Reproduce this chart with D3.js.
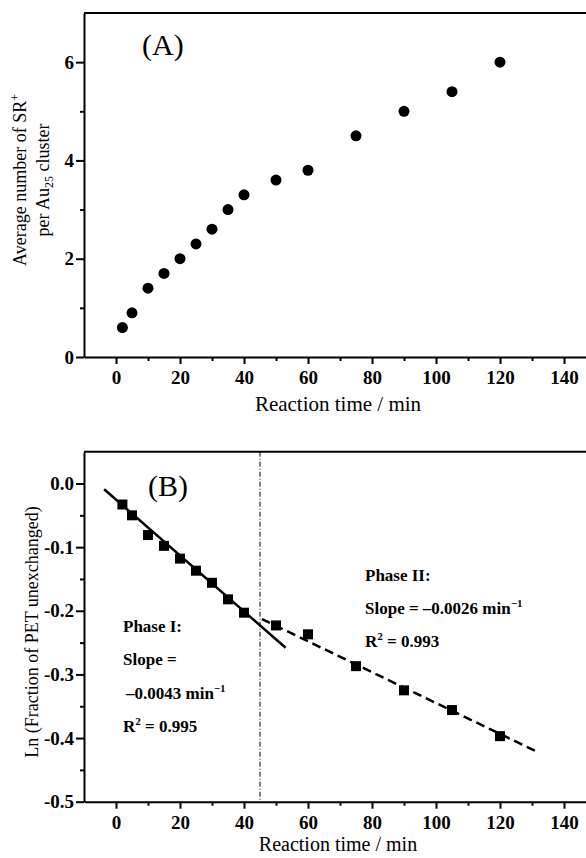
<!DOCTYPE html>
<html>
<head>
<meta charset="utf-8">
<script src="https://cdn.jsdelivr.net/npm/d3@7"></script>
<style>
    body { margin: 0; background: #fff; }
    svg { display: block; }
    text { font-family: "Liberation Serif", "Times New Roman", serif; fill: #000; }
</style>
</head>
<body>
<svg id="chart" width="586" height="858"></svg>
<script>
// Panel A: average number of SR+ per Au25 cluster
var timeA = [2, 5, 10, 15, 20, 25, 30, 35, 40, 50, 60, 75, 90, 105, 120];
var srPerCluster = [0.6, 0.9, 1.4, 1.7, 2.0, 2.3, 2.6, 3.0, 3.3, 3.6, 3.8, 4.5, 5.0, 5.4, 6.0];

// Panel B: ln(fraction of PET unexchanged)
var timeB = [2, 5, 10, 15, 20, 25, 30, 35, 40, 50, 60, 75, 90, 105, 120];
var lnFraction = [-0.033, -0.050, -0.081, -0.098, -0.118, -0.137, -0.156, -0.182, -0.203,
                  -0.223, -0.237, -0.287, -0.325, -0.356, -0.397];

// linear fits (endpoints)
var phase1Fit = [[-3.7, -0.009], [53, -0.258]];
var phase2Fit = [[45.6, -0.213], [132, -0.4225]];
var phaseBoundary = 45;

// ticks
var xTicks = [0, 20, 40, 60, 80, 100, 120, 140];
var xMinorTicks = [10, 30, 50, 70, 90, 110, 130];
var yTicksA = [0, 2, 4, 6];
var yMinorTicksA = [1, 3, 5];
var yTicksB = [0, -0.1, -0.2, -0.3, -0.4, -0.5];
var yMinorTicksB = [-0.05, -0.15, -0.25, -0.35, -0.45];

var svg = d3.select('#chart');
var left = 84, right = 596;

var x = d3.scaleLinear().domain([-10, 150]).range([left, right]);

function drawFrame(g, y, top, bottom, ticks, minor, fmt) {
    // top border (right border falls outside the picture)
    g.append('line')
        .attr('x1', left).attr('x2', right)
        .attr('y1', top).attr('y2', top)
        .attr('stroke', '#000').attr('stroke-width', 2);

    g.append('g')
        .attr('transform', 'translate(0,' + bottom + ')')
        .call(d3.axisBottom(x).tickValues(xTicks).tickSize(7).tickSizeOuter(0).tickPadding(7));
    g.append('g')
        .attr('transform', 'translate(0,' + bottom + ')')
        .call(d3.axisBottom(x).tickValues(xMinorTicks).tickSize(4).tickSizeOuter(0).tickFormat(''))
        .select('.domain').remove();

    g.append('g')
        .attr('transform', 'translate(' + left + ',0)')
        .call(d3.axisLeft(y).tickValues(ticks).tickSize(8).tickSizeOuter(0).tickPadding(2).tickFormat(fmt));
    g.append('g')
        .attr('transform', 'translate(' + left + ',0)')
        .call(d3.axisLeft(y).tickValues(minor).tickSize(4).tickSizeOuter(0).tickFormat(''))
        .select('.domain').remove();

    g.selectAll('.domain').attr('stroke-width', 2);
    g.selectAll('.tick line').attr('stroke-width', 2);
    g.selectAll('.tick text')
        .attr('font-family', '"Liberation Serif", "Times New Roman", serif')
        .attr('font-size', 19)
        .attr('font-weight', 'bold');
}

// ---------- Panel A ----------
var gA = svg.append('g');
var yA = d3.scaleLinear().domain([0, 7]).range([357, 13]);
drawFrame(gA, yA, 13, 357, yTicksA, yMinorTicksA, d3.format('d'));

gA.selectAll('circle.pt')
    .data(timeA)
    .enter()
    .append('circle')
    .attr('class', 'pt')
    .attr('cx', function (d) { return x(d); })
    .attr('cy', function (d, i) { return yA(srPerCluster[i]); })
    .attr('r', 5.5)
    .attr('fill', '#000');

gA.append('text')
    .attr('x', 142).attr('y', 55)
    .attr('font-size', 30)
    .text('(A)');

gA.append('text')
    .attr('x', 338).attr('y', 411)
    .attr('text-anchor', 'middle')
    .attr('font-size', 21)
    .text('Reaction time / min');

var labA = gA.append('text')
    .attr('transform', 'translate(26,180) rotate(-90)')
    .attr('text-anchor', 'middle')
    .attr('font-size', 18);
labA.append('tspan').text('Average number of SR');
labA.append('tspan').attr('font-size', 12).attr('dy', -7).text('+');
var labA2 = gA.append('text')
    .attr('transform', 'translate(49,180) rotate(-90)')
    .attr('text-anchor', 'middle')
    .attr('font-size', 18);
labA2.append('tspan').text('per Au');
labA2.append('tspan').attr('font-size', 12).attr('dy', 4).text('25');
labA2.append('tspan').attr('dy', -4).text(' cluster');

// ---------- Panel B ----------
var gB = svg.append('g');
var yB = d3.scaleLinear().domain([-0.5, 0.05]).range([801.7, 451.7]);
drawFrame(gB, yB, 451.7, 801.7, yTicksB, yMinorTicksB, d3.format('.1f'));
// hyphen minus like the original
gB.selectAll('.tick text').each(function () {
    var t = d3.select(this);
    t.text(t.text().replace('\u2212', '-'));
});

// boundary between phases
gB.append('line')
    .attr('x1', x(phaseBoundary)).attr('x2', x(phaseBoundary))
    .attr('y1', 451.7).attr('y2', 801.7)
    .attr('stroke', '#000').attr('stroke-width', 1)
    .attr('stroke-dasharray', '5,2,1,2');

var line = d3.line()
    .x(function (d) { return x(d[0]); })
    .y(function (d) { return yB(d[1]); });

gB.append('path')
    .attr('d', line(phase1Fit))
    .attr('fill', 'none').attr('stroke', '#000').attr('stroke-width', 2.5);
gB.append('path')
    .attr('d', line(phase2Fit))
    .attr('fill', 'none').attr('stroke', '#000').attr('stroke-width', 2.5)
    .attr('stroke-dasharray', '9,5');

gB.selectAll('rect.pt')
    .data(timeB)
    .enter()
    .append('rect')
    .attr('class', 'pt')
    .attr('x', function (d) { return x(d) - 5; })
    .attr('y', function (d, i) { return yB(lnFraction[i]) - 5; })
    .attr('width', 10)
    .attr('height', 10)
    .attr('fill', '#000');

gB.append('text')
    .attr('x', 148).attr('y', 496)
    .attr('font-size', 30)
    .text('(B)');

gB.append('text')
    .attr('x', 338).attr('y', 851)
    .attr('text-anchor', 'middle')
    .attr('font-size', 20)
    .text('Reaction time / min');

gB.append('text')
    .attr('transform', 'translate(38,632) rotate(-90)')
    .attr('text-anchor', 'middle')
    .attr('font-size', 18)
    .text('Ln (Fraction of PET unexchanged)');

function note(g, xPos, yPos, parts) {
    var t = g.append('text')
        .attr('x', xPos).attr('y', yPos)
        .attr('font-size', 17)
        .attr('font-weight', 'bold');
    parts.forEach(function (p) {
        var s = t.append('tspan').text(p[0]);
        if (p[1] === 'sup') s.attr('font-size', 11).attr('dy', -7);
        if (p[1] === 'base') s.attr('dy', 7);
    });
}

note(gB, 123, 632, [['Phase I:']]);
note(gB, 123, 665, [['Slope =']]);
note(gB, 126, 699, [['\u20130.0043 min'], ['\u22121', 'sup']]);
note(gB, 123, 732, [['R'], ['2', 'sup'], [' = 0.995', 'base']]);

note(gB, 365, 581, [['Phase II:']]);
note(gB, 365, 614, [['Slope = \u20130.0026 min'], ['\u22121', 'sup']]);
note(gB, 365, 647, [['R'], ['2', 'sup'], [' = 0.993', 'base']]);
</script>
</body>
</html>
